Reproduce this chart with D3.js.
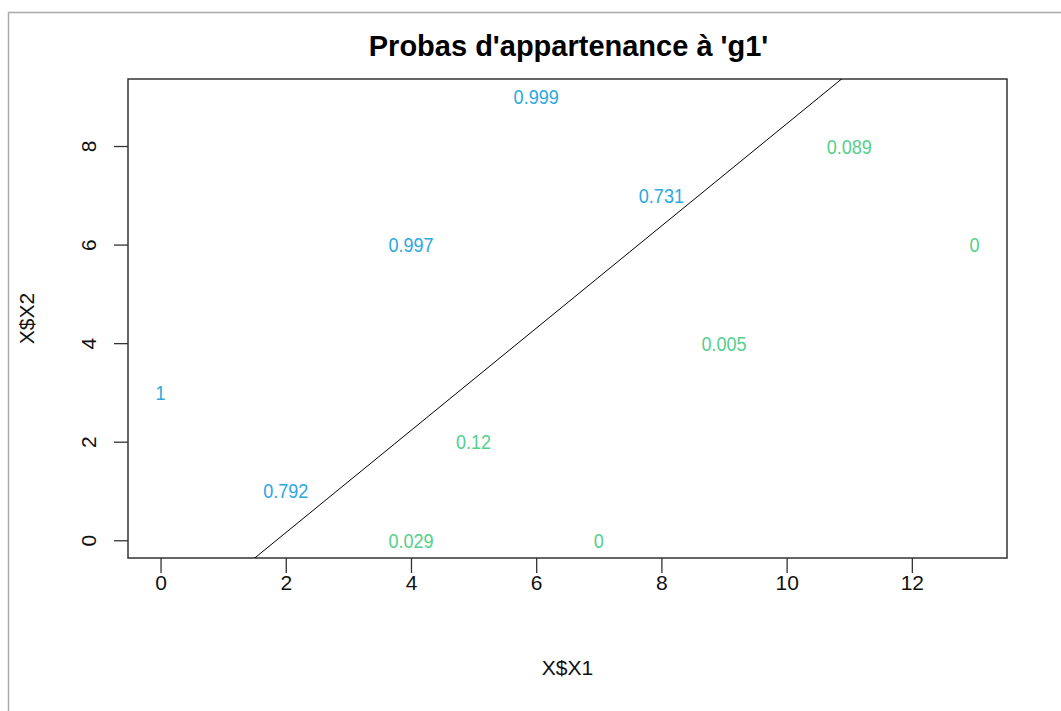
<!DOCTYPE html>
<html>
<head>
<meta charset="utf-8">
<script src="https://cdn.jsdelivr.net/npm/d3@7"></script>
<style>
  html, body { margin: 0; padding: 0; background: #fff; }
  svg text { font-family: "Liberation Sans", Arial, sans-serif; }
</style>
</head>
<body>
<svg id="chart" width="1061" height="711"></svg>
<script>
// Observations: coordinates and membership probability for group 'g1'
const x1Values = [0, 2, 4, 6, 8, 4, 5, 7, 9, 11, 13];
const x2Values = [3, 1, 6, 9, 7, 0, 2, 0, 4, 8, 6];
const probLabels = ["1", "0.792", "0.997", "0.999", "0.731", "0.029", "0.12", "0", "0.005", "0.089", "0"];
const groups = ["g1", "g1", "g1", "g1", "g1", "g2", "g2", "g2", "g2", "g2", "g2"];

// Separating line x2 = a + b * x1
const lineIntercept = -1.92;
const lineSlope = 1.037;

const xTicks = [0, 2, 4, 6, 8, 10, 12];
const yTicks = [0, 2, 4, 6, 8];

const groupColor = { g1: "#2ea8de", g2: "#55d08c" };

const svg = d3.select("#chart");

// Outer frame
svg.append("rect")
  .attr("x", 8.5).attr("y", 12.5)
  .attr("width", 1100).attr("height", 800)
  .attr("fill", "none").attr("stroke", "#aaaaaa").attr("stroke-width", 1.5);

const plot = { left: 128, right: 1007, top: 79, bottom: 558 };

// R-style 4% padding around data range
const xExt = d3.extent(x1Values), yExt = d3.extent(x2Values);
const xPad = (xExt[1] - xExt[0]) * 0.04, yPad = (yExt[1] - yExt[0]) * 0.04;

const x = d3.scaleLinear().domain([xExt[0] - xPad, xExt[1] + xPad]).range([plot.left, plot.right]);
const y = d3.scaleLinear().domain([yExt[0] - yPad, yExt[1] + yPad]).range([plot.bottom, plot.top]);

// Axes
const xAxis = svg.append("g")
  .attr("transform", `translate(0,${plot.bottom})`)
  .call(d3.axisBottom(x).tickValues(xTicks).tickSize(15).tickPadding(2).tickFormat(d3.format("d")));
const yAxis = svg.append("g")
  .attr("transform", `translate(${plot.left},0)`)
  .call(d3.axisLeft(y).tickValues(yTicks).tickSize(14).tickPadding(0).tickFormat(d3.format("d")));

[xAxis, yAxis].forEach(g => {
  g.select(".domain").remove();
  g.selectAll(".tick line").attr("stroke", "#333").attr("stroke-width", 1.3);
  g.selectAll(".tick text").attr("fill", "#111").style("font-size", "21px");
});

yAxis.selectAll(".tick text")
  .attr("x", 0).attr("dy", null)
  .attr("transform", "translate(-40,0) rotate(-90)")
  .attr("text-anchor", "middle")
  .attr("dominant-baseline", "central");

// Plot box
svg.append("rect")
  .attr("x", plot.left).attr("y", plot.top)
  .attr("width", plot.right - plot.left).attr("height", plot.bottom - plot.top)
  .attr("fill", "none").attr("stroke", "#333").attr("stroke-width", 1.5);

// Clip the separating line to the plotting region
svg.append("clipPath").attr("id", "plotClip")
  .append("rect")
  .attr("x", plot.left).attr("y", plot.top)
  .attr("width", plot.right - plot.left).attr("height", plot.bottom - plot.top);

const xd = x.domain();
svg.append("line")
  .attr("clip-path", "url(#plotClip)")
  .attr("x1", x(xd[0])).attr("y1", y(lineIntercept + lineSlope * xd[0]))
  .attr("x2", x(xd[1])).attr("y2", y(lineIntercept + lineSlope * xd[1]))
  .attr("stroke", "#000").attr("stroke-width", 1);

// Probability labels at each observation (condensed digits)
svg.append("g").selectAll("text")
  .data(probLabels)
  .join("text")
  .attr("transform", (d, i) => `translate(${x(x1Values[i])},${y(x2Values[i])}) scale(0.86,1)`)
  .attr("text-anchor", "middle")
  .attr("dominant-baseline", "central")
  .attr("fill", (d, i) => groupColor[groups[i]])
  .style("font-size", "21px")
  .text(d => d);

// Titles
svg.append("text")
  .attr("x", (plot.left + plot.right) / 2 + 1).attr("y", 56)
  .attr("text-anchor", "middle")
  .style("font-size", "29px").style("font-weight", "bold")
  .attr("fill", "#000")
  .text("Probas d'appartenance à 'g1'");

svg.append("text")
  .attr("x", (plot.left + plot.right) / 2).attr("y", 675)
  .attr("text-anchor", "middle")
  .style("font-size", "21px").attr("fill", "#111")
  .text("X$X1");

svg.append("text")
  .attr("transform", `translate(34,${(plot.top + plot.bottom) / 2}) rotate(-90)`)
  .attr("text-anchor", "middle")
  .style("font-size", "21px").attr("fill", "#111")
  .text("X$X2");
</script>
</body>
</html>
